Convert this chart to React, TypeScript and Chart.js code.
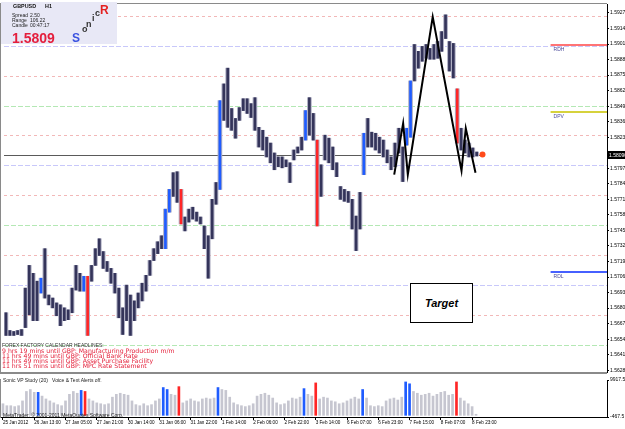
import React, { useEffect, useRef } from "react";
import { Chart, registerables } from "chart.js";

Chart.register(...registerables);

const FONT = '"Liberation Sans", Arial, sans-serif';
const WIDE = '"DejaVu Sans", Verdana, sans-serif';

// 2-hour bars, GBPUSD (25 Jan 2012 21:00 -> 9 Feb 2012)
const highs = [
  1.56766, 1.56617, 1.56609, 1.56617, 1.56625, 1.56972, 1.57162, 1.57096, 1.5703, 1.57055,
  1.57302, 1.56914, 1.56889, 1.56848, 1.56832, 1.56807, 1.5679, 1.56972, 1.57162, 1.57096,
  1.57071, 1.57071, 1.57162, 1.57302, 1.57385, 1.57278, 1.57195, 1.57137, 1.57096, 1.56972,
  1.56807, 1.56997, 1.56914, 1.56865, 1.56931, 1.57013, 1.57079, 1.57203, 1.57302, 1.5736,
  1.5741, 1.57633, 1.57798, 1.57938, 1.57946, 1.57798, 1.57567, 1.57633, 1.57649, 1.57608,
  1.57567, 1.57492, 1.5741, 1.57715, 1.57856, 1.58541, 1.58681, 1.58813, 1.58475, 1.58392,
  1.58483, 1.58557, 1.58557, 1.58516, 1.58566, 1.58318, 1.58293, 1.58235, 1.58186, 1.58103,
  1.5807, 1.5807, 1.58045, 1.58021, 1.58128, 1.58153, 1.58235, 1.58458, 1.58566, 1.58434,
  1.58211, 1.58004, 1.58252, 1.58227, 1.58153, 1.58021, 1.57822, 1.57798, 1.57781, 1.57715,
  1.57575, 1.57773, 1.58268, 1.58392, 1.58277, 1.58268, 1.58235, 1.58211, 1.58128, 1.5807,
  1.58186, 1.5831, 1.58153, 1.5831, 1.58706, 1.59011, 1.58954, 1.58995, 1.59011, 1.58978,
  1.59011, 1.59036, 1.59119, 1.59259, 1.59036, 1.5902, 1.5864, 1.5831, 1.58211, 1.58186,
  1.58145, 1.58111,
];
const lows = [
  1.56576, 1.56576, 1.56576, 1.56584, 1.56576, 1.56642, 1.56749, 1.567, 1.567, 1.56931,
  1.56889, 1.56832, 1.56807, 1.56741, 1.56658, 1.567, 1.56708, 1.56766, 1.56956, 1.56947,
  1.56947, 1.56576, 1.5703, 1.57162, 1.57245, 1.57137, 1.57112, 1.57013, 1.56931, 1.56724,
  1.56584, 1.567, 1.56576, 1.567, 1.56807, 1.56865, 1.56947, 1.57079, 1.57203, 1.57261,
  1.57302, 1.57302, 1.57608, 1.5774, 1.5769, 1.57509, 1.57451, 1.57525, 1.5755, 1.57533,
  1.57509, 1.57302, 1.57055, 1.57385, 1.57674, 1.57798, 1.58376, 1.58318, 1.58293, 1.58227,
  1.58376, 1.58458, 1.58434, 1.584, 1.58293, 1.58153, 1.58128, 1.5807, 1.58021, 1.57963,
  1.57988, 1.57979, 1.57988, 1.57856, 1.58045, 1.58103, 1.58128, 1.58211, 1.58252, 1.58211,
  1.57492, 1.5774, 1.58045, 1.58021, 1.57963, 1.57905, 1.57715, 1.57699, 1.5769, 1.57467,
  1.57286, 1.57467, 1.57922, 1.58153, 1.58153, 1.58128, 1.58103, 1.5807, 1.58021, 1.57963,
  1.57988, 1.58103, 1.57864, 1.58169, 1.58235, 1.58706, 1.58813, 1.58871, 1.58896, 1.58888,
  1.58888, 1.58896, 1.58954, 1.59061, 1.58789, 1.58731, 1.58186, 1.58128, 1.58103, 1.5807,
  1.5807, 1.58078,
];
const volumes = [
  3250, 2700, 2700, 2450, 2700, 4050, 6700, 7250, 6450, 6450,
  5400, 4600, 4050, 3500, 3000, 2700, 4050, 5900, 6700, 6200,
  7000, 6700, 4600, 4050, 3500, 3250, 3000, 3250, 5100, 5900,
  6200, 5900, 5650, 4050, 3000, 2700, 3250, 2700, 3000, 4050,
  4600, 7800, 7250, 5900, 5650, 8050, 3500, 4050, 4600, 4050,
  3800, 4600, 4850, 4600, 4850, 7800, 7250, 7000, 5100, 3500,
  3000, 2700, 2450, 2700, 3250, 5400, 5900, 6200, 5650, 4850,
  3500, 3000, 3250, 4050, 4850, 4600, 5100, 7500, 5900, 5400,
  9100, 4600, 5100, 4850, 4050, 3800, 3250, 3500, 4050, 4600,
  5100, 4600, 7250, 4850, 2700, 2450, 2700, 2450, 4050, 4600,
  4850, 4300, 5100, 9370, 8850, 6700, 6200, 5650, 5900, 6200,
  5400, 5900, 6450, 6700, 5650, 5900, 9370, 4850, 4050, 3250,
  2450, 300,
];
const blueBars = [9, 20, 41, 42, 55, 77, 92, 103, 104];
const redBars = [21, 45, 80, 116];

const timeLabels = [
  "25 Jan 2012", "26 Jan 13:00", "27 Jan 05:00", "27 Jan 21:00", "30 Jan 14:00",
  "31 Jan 06:00", "31 Jan 22:00", "1 Feb 14:00", "2 Feb 06:00", "2 Feb 22:00",
  "3 Feb 14:00", "6 Feb 07:00", "6 Feb 23:00", "7 Feb 15:00", "8 Feb 07:00", "8 Feb 23:00",
];
const timeLabelBars = [0, 8, 16, 24, 32, 40, 48, 56, 64, 72, 80, 88, 96, 104, 112, 120];

const priceTicks = [
  1.59275, 1.59145, 1.59015, 1.58885, 1.58755, 1.58625, 1.58495, 1.58365, 1.58235,
  1.57975, 1.57845, 1.57715, 1.57585, 1.57455, 1.57325, 1.57195, 1.57065, 1.56935,
  1.56805, 1.56675, 1.56545, 1.56415, 1.56285,
];
const currentPrice = 1.5809;
const currentBar = 122.5;

const levelPrices = [1.5925, 1.59, 1.5875, 1.585, 1.5825, 1.58, 1.5775, 1.575, 1.5725, 1.57, 1.5675, 1.565];
const pivotNames = ["RDH", "DPV", "RDL"];
const pivotPrices = [1.59011, 1.58442, 1.57104];
const pivotFromBar = 140;

const zigBars = [99.8, 102.1, 103.3, 109.7, 117.1, 118.2, 120.7];
const zigPrices = [1.57922, 1.58351, 1.57922, 1.59243, 1.57955, 1.5831, 1.57938];

const volTicks = [-467.5, 9917.5];

const X_MIN = -0.5;
const X_MAX = 154.5;

const DARK = "#34345a";
const GRAY = "#aeaec2";
const BLUE = "#1f5cff";
const RED = "#ff2626";

const barColor = (i: number) =>
  blueBars.includes(i) ? BLUE : redBars.includes(i) ? RED : DARK;
const volColor = (i: number) =>
  blueBars.includes(i) ? BLUE : redBars.includes(i) ? RED : "#c6c6d0";

const pricePane = {
  id: "pricePane",
  beforeDatasetsDraw(chart: any) {
    const { ctx, chartArea: a, scales } = chart;
    const y = scales.y;
    const x = scales.x;
    ctx.save();
    ctx.lineWidth = 1;
    levelPrices.forEach((p, k) => {
      const py = Math.round(y.getPixelForValue(p)) + 0.5;
      ctx.strokeStyle = k % 2 === 0 ? "#f2b8b8" : k % 4 === 1 ? "#c8c8fa" : "#b4e8b4";
      ctx.setLineDash(k % 2 === 0 ? [3, 3] : [5, 2]);
      ctx.beginPath();
      ctx.moveTo(a.left, py);
      ctx.lineTo(a.right, py);
      ctx.stroke();
    });
    ctx.setLineDash([]);
    const cy = Math.round(y.getPixelForValue(currentPrice)) + 0.5;
    ctx.strokeStyle = "#5a5a5a";
    ctx.beginPath();
    ctx.moveTo(a.left, cy);
    ctx.lineTo(x.getPixelForValue(currentBar), cy);
    ctx.stroke();
    ctx.restore();
  },
  afterDraw(chart: any) {
    const { ctx, chartArea: a, scales } = chart;
    const y = scales.y;
    const x = scales.x;
    ctx.save();
    const pcol = ["#ff7474", "#d6d23c", "#4660ff"];
    const sx = x.getPixelForValue(pivotFromBar);
    pivotPrices.forEach((p, k) => {
      const py = Math.round(y.getPixelForValue(p));
      ctx.fillStyle = pcol[k];
      ctx.fillRect(sx, py - 1, a.right - sx, 2);
      ctx.fillStyle = "#4a4a9a";
      ctx.font = `5px ${FONT}`;
      ctx.textBaseline = "alphabetic";
      ctx.fillText(pivotNames[k], sx + 3, py + 6);
    });
    const cy = Math.round(y.getPixelForValue(currentPrice));
    ctx.fillStyle = "#000";
    ctx.fillRect(a.right, cy - 4, chart.width - a.right, 8);
    ctx.fillStyle = "#fff";
    ctx.font = `5px ${FONT}`;
    ctx.textBaseline = "middle";
    ctx.fillText(currentPrice.toFixed(5), a.right + 2, cy + 0.5);
    ctx.fillStyle = "#8a8a8a";
    ctx.fillRect(0, a.top - 1, a.right, 1);
    ctx.fillRect(0, a.top - 1, 1, a.bottom - a.top + 1);
    ctx.fillRect(0, a.bottom, a.right, 2);
    ctx.restore();
  },
};

const volPane = {
  id: "volPane",
  afterDraw(chart: any) {
    const { ctx, chartArea: a } = chart;
    ctx.save();
    ctx.fillStyle = "#8a8a8a";
    ctx.fillRect(0, a.top - 1, 1, a.bottom - a.top + 2);
    ctx.restore();
  },
};

export default function App() {
  const pRef = useRef<HTMLCanvasElement>(null);
  const vRef = useRef<HTMLCanvasElement>(null);

  useEffect(() => {
    document.body.style.margin = "0";
    const barData = highs.map((h, i) => ({ x: i, y: [lows[i], h] }));

    const pc = new Chart(pRef.current as HTMLCanvasElement, {
      type: "bar",
      data: {
        datasets: [
          {
            type: "bar",
            data: barData as any,
            backgroundColor: GRAY,
            barThickness: 4,
            grouped: false,
            order: 5,
          } as any,
          {
            type: "bar",
            data: barData as any,
            backgroundColor: highs.map((_, i) => barColor(i)),
            barThickness: 2,
            grouped: false,
            order: 4,
          } as any,
          {
            type: "line",
            data: zigBars.map((b, k) => ({ x: b, y: zigPrices[k] })),
            borderColor: "#000",
            borderWidth: 2,
            pointRadius: 0,
            tension: 0,
            order: 2,
          } as any,
          {
            type: "line",
            data: [{ x: currentBar, y: currentPrice }],
            showLine: false,
            pointRadius: 3,
            pointBackgroundColor: "#ff4a1a",
            pointBorderWidth: 0,
            order: 1,
          } as any,
        ],
      },
      options: {
        animation: false,
        responsive: false,
        devicePixelRatio: 1,
        layout: { padding: { left: 1, top: 2, right: 0, bottom: 1 } },
        plugins: { legend: { display: false }, tooltip: { enabled: false } },
        scales: {
          x: { type: "linear", min: X_MIN, max: X_MAX, offset: false, grace: 0, display: false },
          y: {
            position: "right",
            min: 1.5627,
            max: 1.5935,
            afterFit: (s: any) => {
              s.width = 18;
            },
            afterBuildTicks: (s: any) => {
              s.ticks = priceTicks.map((v) => ({ value: v }));
            },
            ticks: {
              autoSkip: false,
              callback: (v: any) => Number(v).toFixed(5),
              font: { size: 5, family: FONT },
              color: "#000",
              padding: 1,
            },
            grid: { display: true, drawOnChartArea: false, tickLength: 2, color: "#000" },
            border: { display: true, color: "#000" },
          },
        },
      } as any,
      plugins: [pricePane],
    });

    const vc = new Chart(vRef.current as HTMLCanvasElement, {
      type: "bar",
      data: {
        datasets: [
          {
            data: volumes.map((v, i) => ({ x: i, y: v })),
            backgroundColor: volumes.map((_, i) => volColor(i)),
            barThickness: 2,
          } as any,
        ],
      },
      options: {
        animation: false,
        responsive: false,
        devicePixelRatio: 1,
        layout: { padding: { left: 1, top: 2, right: 0, bottom: 0 } },
        plugins: { legend: { display: false }, tooltip: { enabled: false } },
        scales: {
          x: {
            type: "linear",
            min: X_MIN,
            max: X_MAX,
            offset: false,
            grace: 0,
            afterFit: (s: any) => {
              s.height = 12;
            },
            afterBuildTicks: (s: any) => {
              s.ticks = timeLabelBars.map((v) => ({ value: v }));
            },
            ticks: {
              autoSkip: false,
              maxRotation: 0,
              align: "start",
              padding: 0,
              callback: (v: any) => timeLabels[timeLabelBars.indexOf(Number(v))],
              font: { size: 4.6, family: FONT },
              color: "#000",
            },
            grid: { display: true, drawOnChartArea: false, tickLength: 3, color: "#000", offset: false },
            border: { display: true, color: "#000" },
          },
          y: {
            position: "right",
            min: volTicks[0],
            max: volTicks[1],
            afterFit: (s: any) => {
              s.width = 18;
            },
            afterBuildTicks: (s: any) => {
              s.ticks = volTicks.map((v) => ({ value: v }));
            },
            ticks: {
              autoSkip: false,
              callback: (v: any) => Number(v).toFixed(1),
              font: { size: 5, family: FONT },
              color: "#000",
              padding: 1,
            },
            grid: { display: true, drawOnChartArea: false, tickLength: 2, color: "#000" },
            border: { display: true, color: "#000" },
          },
        },
      } as any,
      plugins: [volPane],
    });

    return () => {
      pc.destroy();
      vc.destroy();
    };
  }, []);

  const txt = (extra: React.CSSProperties): React.CSSProperties => ({
    position: "absolute",
    whiteSpace: "pre",
    fontFamily: FONT,
    lineHeight: 1,
    ...extra,
  });

  return (
    <div
      style={{
        position: "absolute",
        left: 0,
        top: 0,
        width: 625,
        height: 429,
        background: "#fff",
        overflow: "hidden",
      }}
    >
      <canvas ref={pRef} width={625} height={376} style={{ position: "absolute", left: 0, top: 0 }} />
      <canvas ref={vRef} width={625} height={53} style={{ position: "absolute", left: 0, top: 376 }} />

      <div style={{ position: "absolute", left: 1, top: 2, width: 116, height: 42, background: "#e8e8f6" }} />
      <div style={txt({ left: 13, top: 4, fontSize: 5.4, fontWeight: "bold", color: "#111" })}>GBPUSD      H1</div>
      <div style={txt({ left: 12, top: 13, fontSize: 5, color: "#222" })}>Spread</div>
      <div style={txt({ left: 30, top: 13, fontSize: 5, color: "#222" })}>2.50</div>
      <div style={txt({ left: 12, top: 18, fontSize: 5, color: "#222" })}>Range</div>
      <div style={txt({ left: 30, top: 18, fontSize: 5, color: "#222" })}>106.22</div>
      <div style={txt({ left: 12, top: 23, fontSize: 5, color: "#222" })}>Candle</div>
      <div style={txt({ left: 30, top: 23, fontSize: 5, color: "#222" })}>00:47:17</div>
      <div style={txt({ left: 12, top: 31, fontSize: 14, fontWeight: "bold", color: "#e41e3c" })}>1.5809</div>
      <div style={txt({ left: 72, top: 32, fontSize: 12, fontWeight: "bold", color: "#3a52e0" })}>S</div>
      <div style={txt({ left: 82, top: 25, fontSize: 9, fontWeight: "bold", color: "#333" })}>o</div>
      <div style={txt({ left: 86, top: 20, fontSize: 9, fontWeight: "bold", color: "#333" })}>n</div>
      <div style={txt({ left: 92, top: 14, fontSize: 9, fontWeight: "bold", color: "#333" })}>i</div>
      <div style={txt({ left: 95, top: 9, fontSize: 9, fontWeight: "bold", color: "#333" })}>c</div>
      <div style={txt({ left: 100, top: 4, fontSize: 12, fontWeight: "bold", color: "#e42020" })}>R</div>

      <div style={txt({ left: 2, top: 343, fontSize: 5, color: "#333" })}>FOREX FACTORY CALENDAR HEADLINES:</div>
      <div style={txt({ left: 2, top: 347.5, fontSize: 6.2, fontFamily: WIDE, color: "#e4203a" })}>9 hrs 19 mins until GBP: Manufacturing Production m/m</div>
      <div style={txt({ left: 2, top: 352.5, fontSize: 6.2, fontFamily: WIDE, color: "#e4203a" })}>11 hrs 49 mins until GBP: Official Bank Rate</div>
      <div style={txt({ left: 2, top: 357.5, fontSize: 6.2, fontFamily: WIDE, color: "#e4203a" })}>11 hrs 49 mins until GBP: Asset Purchase Facility</div>
      <div style={txt({ left: 2, top: 362.5, fontSize: 6.2, fontFamily: WIDE, color: "#e4203a" })}>11 hrs 51 mins until GBP: MPC Rate Statement</div>

      <div style={txt({ left: 3, top: 378, fontSize: 5, color: "#222" })}>Sonic VP Study (20)   Voice &amp; Text Alerts off.</div>
      <div style={txt({ left: 3, top: 413, fontSize: 5, color: "#222" })}>MetaTrader, © 2001-2011 MetaQuotes Software Corp.</div>

      <div
        style={{
          position: "absolute",
          left: 410,
          top: 283,
          width: 61,
          height: 38,
          border: "1px solid #000",
          background: "#fff",
          display: "flex",
          alignItems: "center",
          justifyContent: "center",
          fontFamily: FONT,
          fontWeight: "bold",
          fontStyle: "italic",
          fontSize: 11,
          color: "#000",
        }}
      >
        Target
      </div>
    </div>
  );
}
